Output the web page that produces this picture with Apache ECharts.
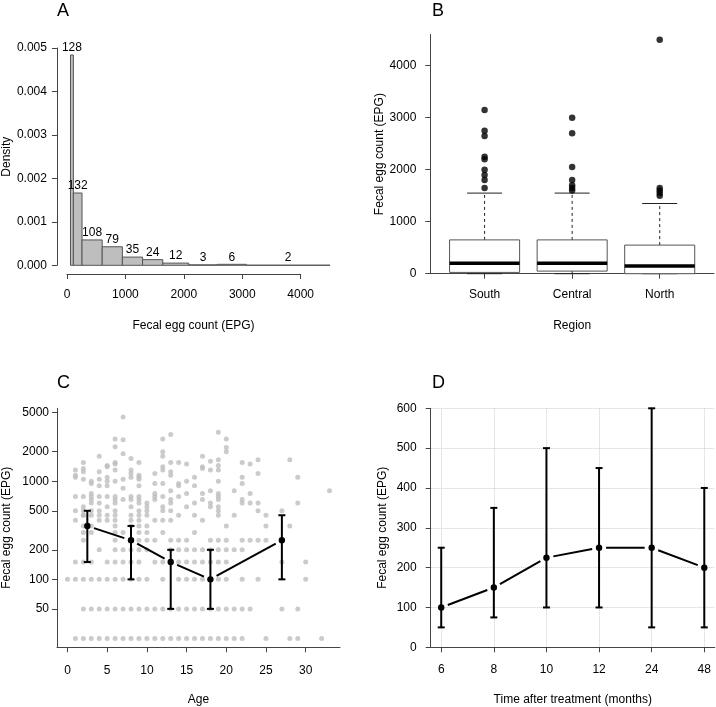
<!DOCTYPE html>
<html>
<head>
<meta charset="utf-8">
<script src="https://cdn.jsdelivr.net/npm/echarts@6/dist/echarts.min.js"></script>
<style>
  html, body { margin: 0; padding: 0; background: #fff; }
  #main { width: 716px; height: 707px; }
</style>
</head>
<body>
<div id="main"></div>
<script>
// ---- panel A: histogram of egg counts
const binStart = [0, 50, 200, 550, 900, 1250, 1600, 2050, 2550, 3050];
const binEnd   = [50, 200, 550, 900, 1250, 1600, 2050, 2550, 3050, 4500];
const binCount = [128, 132, 108, 79, 35, 24, 12, 3, 6, 2];

// ---- panel B: boxplots by region
const regions    = ['South', 'Central', 'North'];
const boxLow     = [0, 0, 0];
const boxQ1      = [25, 50, 0];
const boxMedian  = [200, 200, 150];
const boxQ3      = [650, 650, 550];
const boxHigh    = [1550, 1550, 1350];
const southOutliers   = [1650, 1800, 1900, 2000, 2200, 2250, 2650, 2750, 3150];
const centralOutliers = [1600, 1650, 1700, 1800, 2050, 2700, 3000];
const northOutliers   = [1500, 1550, 1600, 1650, 4500];

// ---- panel C: egg count by age (log scale), age-class medians
const ages = [0,1,2,3,4,5,6,7,8,9,10,11,12,13,14,15,16,17,18,19,20,21,22,23,24,25,26,27,28,29,30,31,32,33];
const epgByAge = [
  [100],
  [1300, 1150, 1100, 700, 500, 400, 150, 100, 25],
  [1550, 1350, 1250, 1050, 700, 550, 500, 450, 450, 350, 300, 250, 150, 100, 50, 25],
  [1000, 950, 750, 700, 650, 600, 500, 450, 350, 300, 150, 100, 50, 25],
  [1800, 1250, 1050, 900, 700, 600, 500, 450, 400, 200, 100, 50, 25],
  [1450, 1400, 1100, 1000, 900, 700, 550, 450, 400, 150, 100, 50, 25],
  [2700, 2250, 1550, 1500, 1300, 1000, 700, 650, 600, 500, 450, 400, 350, 300, 250, 200, 150, 100, 50, 25],
  [4500, 2650, 1900, 1050, 850, 650, 300, 200, 150, 100, 50, 25],
  [1700, 1300, 1200, 1100, 700, 650, 550, 450, 400, 350, 250, 200, 150, 100, 50, 25],
  [1550, 1150, 1100, 1050, 900, 700, 650, 600, 500, 450, 400, 350, 300, 250, 200, 150, 100, 50, 25],
  [600, 550, 500, 450, 350, 300, 250, 200, 100, 50, 25],
  [1200, 950, 750, 700, 650, 400, 250, 150, 50, 25],
  [2700, 2000, 1800, 1400, 1300, 950, 700, 550, 500, 400, 300, 150, 100, 50, 25],
  [3000, 1550, 1250, 1150, 800, 650, 600, 500, 400, 250, 200, 50, 25],
  [1550, 950, 900, 700, 450, 250, 200, 150, 100, 50, 25],
  [1500, 1000, 750, 550, 250, 200, 150, 100, 50, 25],
  [1100, 900, 600, 450, 300, 200, 150, 100, 50, 25],
  [1800, 1400, 1350, 750, 650, 400, 200, 150, 100, 50, 25],
  [1600, 1300, 800, 600, 550, 250, 200, 150, 50, 25],
  [3150, 1650, 1450, 1300, 1000, 750, 700, 650, 550, 500, 450, 250, 200, 150, 100, 50, 25],
  [2700, 2200, 2000, 350, 250, 200, 150, 100, 50, 25],
  [800, 450, 200, 50, 25],
  [1550, 1100, 950, 650, 600, 250, 200, 100, 50, 25],
  [1500, 750, 600, 250, 50],
  [1650, 1200, 600, 500, 250, 100],
  [450, 350, 250, 25],
  [],
  [500, 150, 50],
  [1650, 350, 25],
  [1100, 600, 50, 25],
  [150, 100],
  [],
  [25],
  [800]
];
const ageClass   = [2.5, 8, 13, 18, 27];
const ageMedian  = [350, 250, 150, 100, 250];
const ageLower   = [150, 100, 50, 50, 100];
const ageUpper   = [500, 350, 200, 200, 450];
const logTicks   = [50, 100, 200, 500, 1000, 2000, 5000];

// ---- panel D: egg count after treatment
const months      = ['6', '8', '10', '12', '24', '48'];
const monthMedian = [100, 150, 225, 250, 250, 200];
const monthLower  = [50, 75, 100, 100, 50, 50];
const monthUpper  = [250, 350, 500, 450, 600, 400];

const FONT = '"Liberation Sans", Arial, Helvetica, sans-serif';
const AX = '#444';
const total = binCount.reduce((a, b) => a + b, 0);

let myChart = echarts.init(document.getElementById('main'));

function axisStyle(extra) {
  return Object.assign({
    axisLine: { show: true, onZero: false, lineStyle: { color: AX, width: 1 } },
    axisTick: { show: true, length: 5, lineStyle: { color: AX } },
    axisLabel: { color: '#000', fontSize: 12, fontFamily: FONT },
    splitLine: { show: false },
    nameLocation: 'middle',
    nameTextStyle: { color: '#000', fontSize: 12, fontFamily: FONT }
  }, extra);
}

// line through points, leaving a gap round each point (R type = "b")
function gapLine(params, api) {
  let i = params.dataIndexInside;
  if (i === 0) return;
  let p0 = api.coord([api.value(0, i - 1), api.value(1, i - 1)]);
  let p1 = api.coord([api.value(0), api.value(1)]);
  let dx = p1[0] - p0[0], dy = p1[1] - p0[1];
  let len = Math.sqrt(dx * dx + dy * dy);
  let gap = 7;
  if (len < 2 * gap) return;
  let ux = dx / len, uy = dy / len;
  return {
    type: 'line',
    shape: { x1: p0[0] + ux * gap, y1: p0[1] + uy * gap, x2: p1[0] - ux * gap, y2: p1[1] - uy * gap },
    style: { stroke: '#000', lineWidth: 2 }
  };
}

function errorBar(params, api) {
  let x = api.value(0);
  let mid = api.coord([x, api.value(1)]);
  let lo = api.coord([x, api.value(2)]);
  let hi = api.coord([x, api.value(3)]);
  let s = { stroke: '#000', lineWidth: 2 };
  return {
    type: 'group',
    children: [
      { type: 'line', shape: { x1: mid[0], y1: lo[1], x2: mid[0], y2: hi[1] }, style: s },
      { type: 'line', shape: { x1: mid[0] - 3.5, y1: lo[1], x2: mid[0] + 3.5, y2: lo[1] }, style: s },
      { type: 'line', shape: { x1: mid[0] - 3.5, y1: hi[1], x2: mid[0] + 3.5, y2: hi[1] }, style: s },
      { type: 'circle', shape: { cx: mid[0], cy: mid[1], r: 3.2 }, style: { fill: '#000' } }
    ]
  };
}

let histData = binCount.map((c, i) => [binStart[i], binEnd[i], c / (total * (binEnd[i] - binStart[i])), c]);
let boxData = regions.map((r, i) => [i + 1, boxLow[i], boxQ1[i], boxMedian[i], boxQ3[i], boxHigh[i]]);
let outlierData = [];
[southOutliers, centralOutliers, northOutliers].forEach((arr, i) => arr.forEach(v => outlierData.push([i + 1, v])));
let scatterData = [];
ages.forEach((a, i) => epgByAge[i].forEach(v => scatterData.push([a, Math.log10(v)])));
let ageData = ageClass.map((a, i) => [a, Math.log10(ageMedian[i]), Math.log10(ageLower[i]), Math.log10(ageUpper[i])]);
let monthData = months.map((m, i) => [i + 1, monthMedian[i], monthLower[i], monthUpper[i]]);

let plain = v => String(v);

let option = {
  animation: false,
  backgroundColor: '#fff',
  textStyle: { fontFamily: FONT },
  graphic: [
    { type: 'text', left: 57, top: 2, style: { text: 'A', font: '18px ' + FONT, fill: '#000' } },
    { type: 'text', left: 432, top: 2, style: { text: 'B', font: '18px ' + FONT, fill: '#000' } },
    { type: 'text', left: 57, top: 374, style: { text: 'C', font: '18px ' + FONT, fill: '#000' } },
    { type: 'text', left: 432, top: 374, style: { text: 'D', font: '18px ' + FONT, fill: '#000' } }
  ],
  grid: [
    { left: 53.3, top: 48, width: 276.7, height: 217.3 },
    { left: 67, top: 48, width: 233.7, height: 226 },
    { left: 430.3, top: 34.5, width: 283.7, height: 239.2 },
    { left: 56.7, top: 408.3, width: 283.3, height: 239 },
    { left: 430.7, top: 408.3, width: 284.1, height: 239 }
  ],
  xAxis: [
    axisStyle({ gridIndex: 0, type: 'value', min: -235, max: 4500,
      axisLine: { show: false }, axisTick: { show: false }, axisLabel: { show: false },
      name: 'Fecal egg count (EPG)', nameGap: 54 }),
    axisStyle({ gridIndex: 1, type: 'value', min: 0, max: 4000, interval: 1000,
      axisLabel: { color: '#000', fontSize: 12, fontFamily: FONT, margin: 15, formatter: plain } }),
    axisStyle({ gridIndex: 2, type: 'value', min: 0.38, max: 3.62,
      axisTick: { show: true, length: 5, lineStyle: { color: AX }, customValues: [1, 2, 3] },
      axisLabel: { color: '#000', fontSize: 12, fontFamily: FONT, margin: 15, customValues: [1, 2, 3],
        formatter: v => regions[Math.round(v) - 1] },
      name: 'Region', nameGap: 46 }),
    axisStyle({ gridIndex: 3, type: 'value', min: -1.32, max: 34.32,
      axisTick: { show: true, length: 5, lineStyle: { color: AX }, customValues: [0, 5, 10, 15, 20, 25, 30] },
      axisLabel: { color: '#000', fontSize: 12, fontFamily: FONT, margin: 17, customValues: [0, 5, 10, 15, 20, 25, 30] },
      name: 'Age', nameGap: 46 }),
    axisStyle({ gridIndex: 4, type: 'value', min: 0.8, max: 6.2,
      axisTick: { show: true, length: 5, lineStyle: { color: AX }, customValues: [1, 2, 3, 4, 5, 6] },
      axisLabel: { color: '#000', fontSize: 12, fontFamily: FONT, margin: 16, customValues: [1, 2, 3, 4, 5, 6],
        formatter: v => months[Math.round(v) - 1] },
      splitLine: { show: true, lineStyle: { color: '#ccc', type: 'dotted' } },
      name: 'Time after treatment (months)', nameGap: 46 })
  ],
  yAxis: [
    axisStyle({ gridIndex: 0, type: 'value', min: 0, max: 0.005, interval: 0.001,
      axisLabel: { color: '#000', fontSize: 12, fontFamily: FONT, margin: 10, formatter: v => v.toFixed(3) },
      name: 'Density', nameGap: 40 }),
    { gridIndex: 1, type: 'value', min: 0, max: 1, show: false },
    axisStyle({ gridIndex: 2, type: 'value', min: 0, max: 4600,
      axisTick: { show: true, length: 5, lineStyle: { color: AX }, customValues: [0, 1000, 2000, 3000, 4000] },
      axisLabel: { color: '#000', fontSize: 12, fontFamily: FONT, margin: 14, formatter: plain,
        customValues: [0, 1000, 2000, 3000, 4000] },
      name: 'Fecal egg count (EPG)', nameGap: 42 }),
    axisStyle({ gridIndex: 3, type: 'value', min: Math.log10(20.3), max: Math.log10(5534),
      axisTick: { show: true, length: 5, lineStyle: { color: AX }, customValues: logTicks.map(v => Math.log10(v)) },
      axisLabel: { color: '#000', fontSize: 12, fontFamily: FONT, margin: 8,
        customValues: logTicks.map(v => Math.log10(v)),
        formatter: v => String(Math.round(Math.pow(10, v))) },
      name: 'Fecal egg count (EPG)', nameGap: 44 }),
    axisStyle({ gridIndex: 4, type: 'value', min: 0, max: 600, interval: 100,
      axisLabel: { color: '#000', fontSize: 12, fontFamily: FONT, margin: 14 },
      splitLine: { show: true, lineStyle: { color: '#ccc', type: 'dotted' } },
      name: 'Fecal egg count (EPG)', nameGap: 42 })
  ],
  series: [
    {
      type: 'custom', xAxisIndex: 0, yAxisIndex: 0, data: histData,
      renderItem: function (params, api) {
        let p0 = api.coord([api.value(0), api.value(2)]);
        let p1 = api.coord([api.value(1), 0]);
        return {
          type: 'group',
          children: [
            { type: 'rect', shape: { x: p0[0], y: p0[1], width: p1[0] - p0[0], height: p1[1] - p0[1] },
              style: { fill: '#bebebe', stroke: '#555', lineWidth: 1 } },
            { type: 'text', x: (p0[0] + p1[0]) / 2, y: p0[1] - 1,
              style: { text: String(api.value(3)), fill: '#000', font: '12px ' + FONT,
                align: 'center', verticalAlign: 'bottom', textAlign: 'center', textVerticalAlign: 'bottom' } }
          ]
        };
      }
    },
    {
      type: 'custom', xAxisIndex: 2, yAxisIndex: 2, data: boxData,
      renderItem: function (params, api) {
        let x = api.value(0);
        let hw = api.size([0.8, 0])[0] / 2;
        let lo = api.coord([x, api.value(1)]);
        let q1 = api.coord([x, api.value(2)]);
        let md = api.coord([x, api.value(3)]);
        let q3 = api.coord([x, api.value(4)]);
        let hi = api.coord([x, api.value(5)]);
        let cx = md[0];
        let dash = { stroke: '#222', lineWidth: 1, lineDash: [3, 3] };
        let solid = { stroke: '#222', lineWidth: 1 };
        return {
          type: 'group',
          children: [
            { type: 'line', shape: { x1: cx, y1: q3[1], x2: cx, y2: hi[1] }, style: dash },
            { type: 'line', shape: { x1: cx, y1: q1[1], x2: cx, y2: lo[1] }, style: dash },
            { type: 'line', shape: { x1: cx - hw / 2, y1: hi[1], x2: cx + hw / 2, y2: hi[1] }, style: solid },
            { type: 'line', shape: { x1: cx - hw / 2, y1: lo[1], x2: cx + hw / 2, y2: lo[1] }, style: solid },
            { type: 'rect', shape: { x: cx - hw, y: q3[1], width: 2 * hw, height: q1[1] - q3[1] },
              style: { fill: '#fff', stroke: '#555', lineWidth: 1 } },
            { type: 'line', shape: { x1: cx - hw, y1: md[1], x2: cx + hw, y2: md[1] },
              style: { stroke: '#000', lineWidth: 3.5 } }
          ]
        };
      }
    },
    {
      type: 'scatter', xAxisIndex: 2, yAxisIndex: 2, data: outlierData,
      symbol: 'circle', symbolSize: 6.5, itemStyle: { color: '#000' }, z: 3
    },
    {
      type: 'scatter', xAxisIndex: 3, yAxisIndex: 3, data: scatterData,
      symbol: 'circle', symbolSize: 5, itemStyle: { color: '#bebebe' }, z: 1
    },
    { type: 'custom', xAxisIndex: 3, yAxisIndex: 3, data: ageData, renderItem: gapLine, z: 3 },
    { type: 'custom', xAxisIndex: 3, yAxisIndex: 3, data: ageData, renderItem: errorBar, z: 4 },
    { type: 'custom', xAxisIndex: 4, yAxisIndex: 4, data: monthData, renderItem: gapLine, z: 3 },
    { type: 'custom', xAxisIndex: 4, yAxisIndex: 4, data: monthData, renderItem: errorBar, z: 4 }
  ]
};
myChart.setOption(option);
</script>
</body>
</html>
